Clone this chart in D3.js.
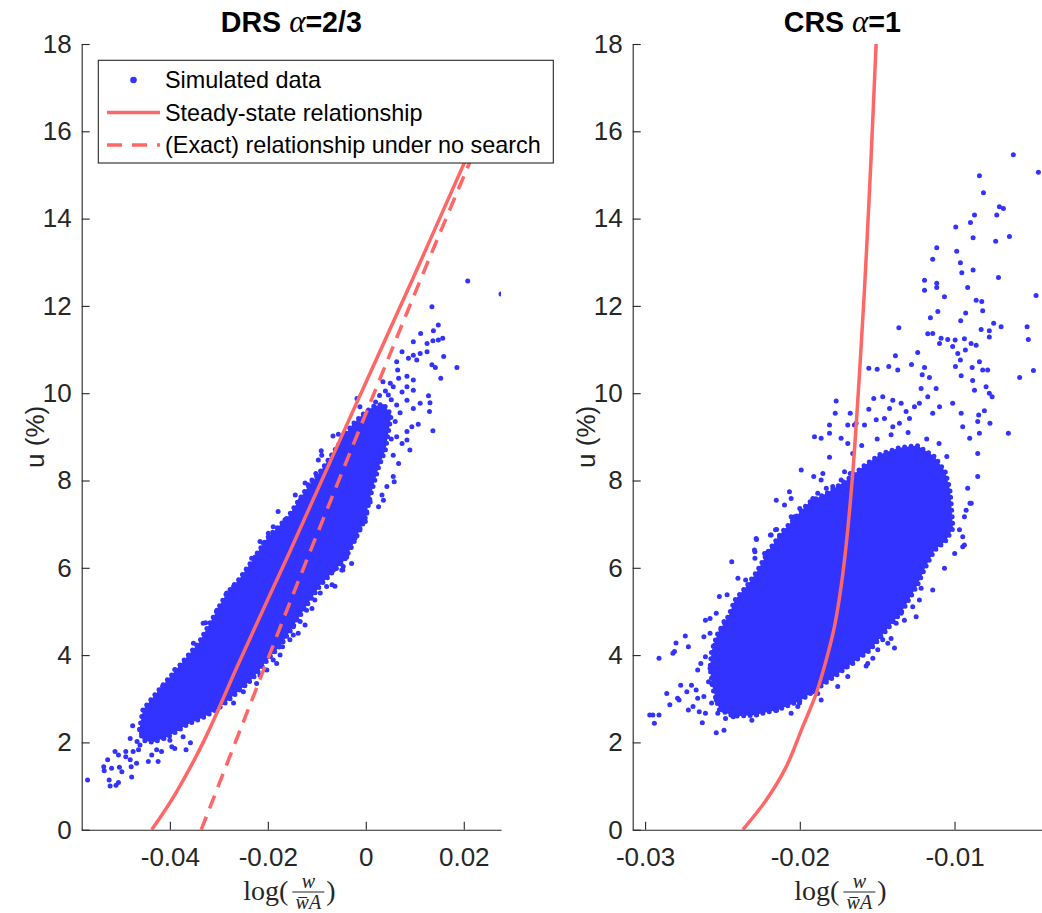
<!DOCTYPE html>
<html>
<head>
<meta charset="utf-8">
<script src="https://cdn.jsdelivr.net/npm/d3@7"></script>
<style>
  body { margin: 0; background: #fff; }
  svg { display: block; font-family: "Liberation Sans", Arial, Helvetica, sans-serif; }
</style>
</head>
<body>
<svg id="chart" width="1042" height="913"></svg>
<script>
// ---- data ----
var uTicks = [0, 2, 4, 6, 8, 10, 12, 14, 16, 18];
var drsXTicks = [-0.04, -0.02, 0, 0.02];
var crsXTicks = [-0.03, -0.02, -0.01];
var legendLabels = ['Simulated data', 'Steady-state relationship', '(Exact) relationship under no search'];

// steady-state relationship, DRS panel  [log(w/wA), u%]
var drsSteady = [[-0.0437,0],[-0.0390,0.8],[-0.0332,2.0],[-0.0260,3.8],[-0.0195,5.4],[-0.0158,6.3],
  [-0.0042,9.2],[0.0095,12.6],[0.0202,15.3],[0.0230,16.0]];
// exact relationship under no search, DRS panel
var drsNoSearch = [[-0.0336,0],[-0.0235,2.9],[-0.0134,5.8],[0.0108,12.5],[0.0205,15.1],[0.0235,15.9]];
// steady-state relationship, CRS panel
var crsSteady = [[-0.02368,0],[-0.02217,0.68],[-0.02088,1.44],[-0.01981,2.36],[-0.01894,3.12],[-0.01829,3.89],
  [-0.01776,4.65],[-0.01733,5.57],[-0.01701,6.5],[-0.01658,8.16],[-0.01614,10.46],[-0.01582,12.37],
  [-0.0156,13.89],[-0.01539,15.42],[-0.01507,18]];

// outline of the saturated part of each cloud
var drsCore = [[-0.0462,2.3],[-0.0455,2.75],[-0.0430,3.1],[-0.0400,3.5],[-0.0370,3.9],[-0.0340,4.3],[-0.0310,4.9],
  [-0.0285,5.4],[-0.0258,5.75],[-0.0236,6.1],[-0.0200,6.7],[-0.0160,7.15],[-0.0125,7.75],[-0.0090,8.25],[-0.0060,8.75],
  [-0.0030,9.25],[-0.0008,9.5],[0.0016,9.7],[0.0036,9.75],[0.0052,9.5],[0.0046,9.1],[0.0040,8.7],[0.0026,8.3],
  [0.0012,7.75],[-0.0002,7.1],[-0.0028,6.5],[-0.0045,6.15],[-0.0066,5.92],[-0.0093,5.6],[-0.0120,5.15],[-0.0146,4.7],
  [-0.0172,4.25],[-0.0200,3.9],[-0.0232,3.45],[-0.0265,3.12],[-0.0296,2.82],[-0.0330,2.58],[-0.0366,2.4],
  [-0.0400,2.15],[-0.0435,2.0],[-0.0455,2.05]];
var crsCore = [[-0.0252,2.75],[-0.0256,3.2],[-0.0258,3.7],[-0.0257,4.1],[-0.0253,4.5],[-0.0246,4.9],[-0.0242,5.26],
  [-0.0234,5.6],[-0.0228,5.9],[-0.0220,6.4],[-0.0212,6.8],[-0.0203,7.15],[-0.0194,7.5],[-0.0183,7.7],[-0.0170,8.0],
  [-0.0158,8.35],[-0.0148,8.6],[-0.0136,8.75],[-0.0124,8.8],[-0.0113,8.55],[-0.0106,8.2],[-0.0103,7.8],[-0.0102,7.4],
  [-0.0101,6.9],[-0.0106,6.6],[-0.0113,6.4],[-0.0119,6.0],[-0.0124,5.6],[-0.0129,5.3],[-0.0134,5.0],[-0.0141,4.7],
  [-0.0148,4.4],[-0.0155,4.1],[-0.0165,3.85],[-0.0176,3.55],[-0.0188,3.25],[-0.0200,2.95],[-0.0214,2.75],
  [-0.0230,2.62],[-0.0243,2.6]];

// scattered simulated points outside the saturated core
var drsPoints = [[-0.0568,1.14],[-0.0522,1.00],[-0.0524,1.14],[-0.0510,1.02],[-0.0505,1.08],[-0.0535,1.44],[-0.0534,1.35],
  [-0.0527,1.60],[-0.0512,1.79],[-0.0505,1.71],[-0.0519,1.41],[-0.0503,1.43],[-0.0498,1.33],[-0.0490,1.67],[-0.0481,1.60],
  [-0.0490,1.79],[-0.0475,1.79],[-0.0478,1.21],[-0.0479,1.44],[-0.0468,1.52],[-0.0481,2.09],[-0.0476,2.38],[-0.0467,2.02],
  [-0.0461,1.94],[-0.0464,1.83],[-0.0458,2.21],[-0.0453,2.44],[-0.0446,2.28],[-0.0441,2.47],[-0.0444,1.56],[-0.0437,1.71],
  [-0.0427,1.83],[-0.0424,1.56],[-0.0417,1.79],[-0.0396,1.90],[-0.0390,1.86],[-0.0400,2.05],[-0.0412,2.09],[-0.0410,2.21],
  [-0.0367,1.83],[-0.0358,1.99],[-0.0383,2.32],[-0.0373,2.13],[-0.0415,3.28],[-0.0407,3.20],[-0.0390,3.67],[-0.0441,2.59],
  [-0.0434,2.36],[-0.0427,2.70],[-0.0420,2.82],[-0.0352,4.27],[-0.0327,4.74],[-0.0304,5.03],[-0.0284,5.42],[-0.0250,5.72],
  [-0.0270,5.57],[-0.0231,5.99],[-0.0270,2.90],[-0.0250,3.16],[-0.0247,3.31],[-0.0223,3.35],[-0.0216,3.54],[-0.0202,3.66],
  [-0.0182,3.81],[-0.0175,4.00],[-0.0189,3.89],[-0.0170,4.19],[-0.0155,4.35],[-0.0148,4.46],[-0.0138,4.50],[-0.0121,5.03],
  [-0.0134,4.77],[-0.0124,4.69],[-0.0148,4.65],[-0.0110,5.07],[-0.0104,5.26],[-0.0093,5.42],[-0.0080,5.57],[-0.0069,5.61],
  [-0.0063,5.58],[-0.0049,5.95],[-0.0046,6.03],[-0.0029,6.10],[-0.0080,5.87],[-0.0332,4.73],[-0.0291,4.96],[-0.0284,5.26],
  [0.0208,12.57],[0.0276,12.27],[0.0135,11.98],[0.0148,11.56],[0.0138,11.43],[0.0112,11.37],[0.0097,11.18],[0.0125,11.14],
  [0.0137,11.20],[0.0148,11.22],[0.0157,11.26],[0.0159,10.84],[0.0186,10.59],[0.0153,10.34],[0.0074,10.95],[0.0063,10.72],
  [0.0087,10.80],[0.0097,10.87],[0.0104,10.76],[0.0111,10.91],[0.0125,10.95],[0.0135,10.65],[0.0142,10.59],[0.0065,10.53],
  [0.0084,10.39],[0.0097,10.30],[0.0084,10.15],[0.0067,10.34],[0.0035,10.26],[0.0056,10.15],[0.0050,10.23],[0.0074,10.03],
  [0.0097,10.07],[0.0128,9.94],[0.0111,9.77],[0.0131,9.78],[0.0084,9.84],[0.0063,9.73],[0.0046,9.96],[0.0097,9.65],
  [0.0130,9.58],[0.0107,9.29],[0.0137,9.14],[0.0094,9.23],[0.0084,9.12],[0.0063,9.00],[0.0074,8.85],[0.0084,8.93],
  [0.0090,8.70],[0.0056,8.58],[0.0067,8.39],[0.0056,8.09],[0.0058,7.97],[0.0043,7.86],[0.0033,7.67],[0.0036,7.55],
  [0.0026,7.40],[0.0009,7.51],[0.0002,7.25],[-0.0001,7.06],[-0.0012,6.90],[-0.0022,6.68],[-0.0032,6.48],[-0.0039,6.25],
  [-0.0053,6.10],[-0.0066,5.95],[-0.0047,5.95],[-0.0067,9.02],[-0.0056,9.06],[-0.0046,9.00],[-0.0091,8.68],[-0.0097,8.47],
  [-0.0090,8.58],[-0.0102,8.16],[-0.0117,7.90],[-0.0124,7.94],[-0.0144,7.67],[-0.0134,7.55],[-0.0110,8.01],[-0.0179,7.29],
  [-0.0165,7.10],[-0.0189,6.94],[-0.0199,6.79],[-0.0216,6.60],[-0.0209,6.56],[-0.0226,6.25],[-0.0233,6.22],[-0.0012,9.69],
  [-0.0018,9.88],[0.0020,9.80],[0.0028,9.95],[0.0040,10.05],[0.0015,9.55],[0.0052,9.85],[0.0045,9.45],[0.0060,9.35],
  [0.0070,9.55],[0.0025,9.25],[0.0052,8.95]];

var crsPoints = [[-0.0297,2.63],[-0.0295,2.63],[-0.0294,2.44],[-0.0291,2.63],[-0.0291,3.93],[-0.0286,3.12],[-0.0284,2.86],
  [-0.0282,4.04],[-0.0281,4.08],[-0.0274,4.44],[-0.0272,4.19],[-0.0280,4.28],[-0.0277,3.31],[-0.0279,3.01],[-0.0278,2.97],
  [-0.0273,3.16],[-0.0270,3.31],[-0.0266,3.66],[-0.0264,3.81],[-0.0272,2.74],[-0.0269,2.82],[-0.0265,2.70],[-0.0263,2.45],
  [-0.0261,2.67],[-0.0257,2.90],[-0.0254,2.97],[-0.0253,2.67],[-0.0254,2.22],[-0.0249,2.28],[-0.0248,2.55],[-0.0250,2.74],
  [-0.0267,3.20],[-0.0266,3.01],[-0.0262,3.05],[-0.0259,3.39],[-0.0257,3.35],[-0.0256,3.54],[-0.0258,3.70],[-0.0261,3.96],
  [-0.0262,4.42],[-0.0258,4.50],[-0.0255,4.23],[-0.0253,4.04],[-0.0256,3.89],[-0.0252,4.42],[-0.0251,4.58],[-0.0249,4.77],
  [-0.0247,4.61],[-0.0254,4.96],[-0.0258,4.84],[-0.0261,4.80],[-0.0252,5.34],[-0.0247,5.38],[-0.0244,6.14],[-0.0240,5.76],
  [-0.0235,5.72],[-0.0228,6.65],[-0.0229,6.22],[-0.0229,6.37],[-0.0222,6.33],[-0.0219,6.75],[-0.0215,6.88],[-0.0212,6.64],
  [-0.0206,6.79],[-0.0211,6.25],[-0.0205,6.41],[-0.0222,6.10],[-0.0226,5.80],[-0.0231,5.19],[-0.0239,2.67],[-0.0237,2.82],
  [-0.0243,2.59],[-0.0241,2.90],[-0.0231,2.51],[-0.0228,2.63],[-0.0215,2.74],[-0.0231,3.01],
  [-0.00947,6.48],[-0.00999,6.33],[-0.00925,7.32],[-0.00892,7.48],[-0.00968,6.87],[-0.01065,5.99],[-0.01141,5.49],
  [-0.01216,5.53],[-0.01227,5.26],[-0.0127,5.11],[-0.01248,4.88],[-0.01345,4.96],[-0.01324,4.80],[-0.01377,4.73],
  [-0.01388,4.16],[-0.01431,4.27],[-0.0141,4.38],[-0.01528,3.93],[-0.01571,3.75],[-0.01561,3.81],[-0.01496,4.12],
  [-0.01464,4.35],[-0.01614,4.04],[-0.01636,3.96],[-0.0169,3.51],[-0.01755,3.28],[-0.017,3.73],[-0.01658,3.81],
  [-0.01862,2.97],[-0.01884,3.12],[-0.01916,3.16],[-0.02056,2.67],[-0.02152,2.73],[-0.02002,2.90],[-0.01981,3.05],
  [-0.02013,2.82],
  [-0.0062,15.46],[-0.00458,15.06],[-0.00839,14.98],[-0.00813,14.59],[-0.0071,14.27],[-0.00684,14.23],[-0.00727,14.08],
  [-0.00871,14.08],[-0.00897,13.91],[-0.00992,13.81],[-0.0088,13.56],[-0.00734,13.48],[-0.00645,13.59],[-0.01115,13.33],
  [-0.01141,13.07],[-0.00986,13.25],[-0.00962,12.99],[-0.00953,12.76],[-0.0088,12.82],[-0.00716,12.65],[-0.01194,12.59],
  [-0.01194,12.36],[-0.01115,12.52],[-0.01115,12.42],[-0.01065,12.21],[-0.00915,12.42],[-0.0086,12.13],[-0.00824,12.10],
  [-0.00818,11.89],[-0.00928,11.84],[-0.0096,11.66],[-0.00828,11.46],[-0.00775,11.43],[-0.00747,11.60],[-0.00699,11.52],
  [-0.00775,11.29],[-0.00531,11.52],[-0.00523,11.23],[-0.00473,12.24],[-0.0049,10.52],[-0.00579,10.36],[-0.00652,9.08],
  [-0.01156,11.73],[-0.01108,11.87],[-0.01173,11.36],[-0.01141,11.37],[-0.01097,11.14],[-0.01087,11.26],[-0.01044,11.23],
  [-0.01012,11.07],[-0.00996,11.22],[-0.00936,11.25],[-0.00979,10.91],[-0.0093,10.99],[-0.00962,10.76],[-0.00893,11.14],
  [-0.0086,11.10],[-0.00994,10.61],[-0.00957,10.40],[-0.00886,10.59],[-0.00839,10.72],[-0.00818,10.53],[-0.00786,10.53],
  [-0.00883,10.29],[-0.00871,10.07],[-0.00796,10.15],[-0.00775,10.00],[-0.00757,9.92],[-0.00807,9.60],[-0.00844,9.50],
  [-0.0085,9.35],[-0.00771,9.31],[-0.00839,9.08],[-0.00902,8.97],[-0.00947,9.23],[-0.00957,9.54],[-0.01012,9.77],
  [-0.0085,8.62],[-0.0085,8.09],[-0.00915,7.82],[-0.009,7.48],[-0.00936,7.17],[-0.00947,6.71],[-0.00936,6.52],
  [-0.01554,10.57],[-0.0150,10.55],[-0.01425,10.61],[-0.01367,10.53],[-0.01382,10.86],[-0.01278,10.66],[-0.01238,10.93],
  [-0.0136,11.50],[-0.01194,10.59],[-0.01209,10.42],[-0.01162,10.36],[-0.01119,10.11],[-0.01216,10.11],[-0.01173,9.92],
  [-0.01227,9.77],[-0.01141,9.54],[-0.01097,9.69],[-0.01259,9.69],[-0.01313,9.58],[-0.01345,9.77],[-0.01399,9.84],
  [-0.0142,9.65],[-0.01464,9.92],[-0.01522,9.88],[-0.01554,9.63],[-0.01582,9.27],[-0.01506,9.39],[-0.01453,9.42],
  [-0.01399,9.23],[-0.01356,9.31],[-0.01291,9.42],[-0.01636,9.31],[-0.01647,9.27],[-0.0169,9.27],[-0.01674,9.54],
  [-0.01771,9.54],[-0.01765,9.82],[-0.01808,9.27],[-0.01808,9.08],[-0.01862,8.97],[-0.01905,9.00],[-0.01733,8.97],
  [-0.0169,8.85],[-0.01658,8.62],[-0.01808,8.53],[-0.01711,8.20],[-0.01674,8.16],[-0.01733,8.01],[-0.01851,8.16],
  [-0.01991,8.24],[-0.0191,8.09],[-0.01862,8.01],[-0.01787,7.86],[-0.01829,7.82],[-0.01765,7.71],[-0.01722,7.63],
  [-0.01884,7.71],[-0.01916,7.59],[-0.0200,7.36],[-0.02056,7.59],[-0.02067,7.74],[-0.02099,7.44],[-0.02152,7.55],
  [-0.02034,7.17],[-0.01959,7.25],[-0.01926,7.09],[-0.01873,7.25],[-0.01808,7.17],
  [-0.02282,6.67],[-0.02293,6.41],[-0.02228,6.33],[-0.02185,6.75],[-0.02157,6.87],[-0.02131,6.71],[-0.02099,6.64],
  [-0.02067,6.94],[-0.02056,7.17],[-0.0200,6.79],
  [-0.0150,8.95],[-0.0141,9.05],[-0.0130,9.10],[-0.0118,8.95],[-0.0110,8.85],[-0.0105,8.55],[-0.0160,8.80]];

// ---- drawing ----
var svg = d3.select('#chart');
var ink = '#262626', blue = '#3333ff', red = '#ff6666';
var yTop = 44, yBottom = 829.7, panelW = 419.3;
var serif = '"Liberation Serif", "DejaVu Serif", serif';
var tickFmt = function (d) { return String(+d.toFixed(2)); };

function drawPanel(opt) {
  var xScale = d3.scaleLinear().domain(opt.xDomain).range([opt.left, opt.left + panelW]);
  var yScale = d3.scaleLinear().domain([0, 18]).range([yBottom, yTop]);
  var g = svg.append('g');

  svg.append('clipPath').attr('id', 'clip-' + opt.name)
    .append('rect')
    .attr('x', opt.left).attr('y', yTop)
    .attr('width', panelW).attr('height', yBottom - yTop);

  var plot = g.append('g').attr('clip-path', 'url(#clip-' + opt.name + ')');
  var px = function (d) { return xScale(d[0]); };
  var py = function (d) { return yScale(d[1]); };

  // saturated core, edge broken up with a dotted rim like the marker cloud
  var coreLine = d3.line().x(px).y(py).curve(d3.curveLinearClosed);
  plot.append('path')
    .datum(opt.core)
    .attr('d', coreLine)
    .attr('fill', blue);
  plot.append('path')
    .datum(opt.core)
    .attr('d', coreLine)
    .attr('fill', 'none')
    .attr('stroke', blue)
    .attr('stroke-width', 5)
    .attr('stroke-linecap', 'round')
    .attr('stroke-dasharray', '0,6.5');

  plot.selectAll('circle')
    .data(opt.points)
    .join('circle')
    .attr('cx', px).attr('cy', py)
    .attr('r', 2.5)
    .attr('fill', blue);

  var lineFun = d3.line().x(px).y(py).curve(d3.curveCatmullRom.alpha(0.5));
  opt.lines.forEach(function (l) {
    plot.append('path')
      .datum(l.data)
      .attr('d', lineFun)
      .attr('fill', 'none')
      .attr('stroke', red)
      .attr('stroke-width', 3.5)
      .attr('stroke-dasharray', l.dash || null);
  });

  var xAxis = g.append('g')
    .attr('transform', 'translate(0,' + yBottom + ')')
    .call(d3.axisBottom(xScale).tickValues(opt.xTicks).tickFormat(tickFmt)
      .tickSizeInner(-8).tickSizeOuter(0).tickPadding(18));
  var yAxis = g.append('g')
    .attr('transform', 'translate(' + opt.left + ',0)')
    .call(d3.axisLeft(yScale).tickValues(uTicks).tickFormat(tickFmt)
      .tickSizeInner(-8).tickSizeOuter(0).tickPadding(10));

  [xAxis, yAxis].forEach(function (ax) {
    ax.attr('font-size', 26).attr('font-family', null);
    ax.select('.domain').attr('stroke', ink).attr('stroke-width', 1.1);
    ax.selectAll('.tick line').attr('stroke', ink).attr('stroke-width', 1.1);
    ax.selectAll('.tick text').attr('fill', ink);
  });

  var cx = opt.left + panelW / 2;

  // title
  var title = g.append('text')
    .attr('x', cx).attr('y', 32)
    .attr('text-anchor', 'middle')
    .attr('font-size', 28.6)
    .attr('font-weight', 'bold')
    .attr('fill', '#000');
  title.append('tspan').text(opt.titleLeft + ' ');
  title.append('tspan')
    .attr('font-family', serif)
    .attr('font-style', 'italic').attr('font-weight', 'normal')
    .attr('font-size', 31)
    .text('\u03b1');
  title.append('tspan').text(opt.titleRight);

  // y label
  g.append('text')
    .attr('transform', 'translate(' + (opt.left - 38) + ',' + ((yTop + yBottom) / 2) + ') rotate(-90)')
    .attr('text-anchor', 'middle')
    .attr('font-size', 26)
    .attr('fill', ink)
    .text('u (%)');

  // x label: log( w / (w-bar A) )
  var xl = g.append('g').attr('fill', ink).attr('font-family', serif);
  xl.append('text').attr('x', cx - 3).attr('y', 900).attr('text-anchor', 'end')
    .attr('font-size', 28).text('log(');
  xl.append('text').attr('x', cx + 17).attr('y', 888).attr('text-anchor', 'middle')
    .attr('font-size', 20).attr('font-style', 'italic').text('w');
  xl.append('line').attr('x1', cx + 1).attr('x2', cx + 33).attr('y1', 892).attr('y2', 892)
    .attr('stroke', ink).attr('stroke-width', 1.2);
  xl.append('text').attr('x', cx + 17).attr('y', 909).attr('text-anchor', 'middle')
    .attr('font-size', 20).attr('font-style', 'italic').text('wA');
  xl.append('line').attr('x1', cx + 7).attr('x2', cx + 16).attr('y1', 897.5).attr('y2', 897.5)
    .attr('stroke', ink).attr('stroke-width', 1);
  xl.append('text').attr('x', cx + 35).attr('y', 900)
    .attr('font-size', 28).text(')');
}

drawPanel({
  name: 'drs', left: 81.7, xDomain: [-0.058, 0.0276], xTicks: drsXTicks,
  core: drsCore, points: drsPoints,
  lines: [{ data: drsSteady }, { data: drsNoSearch, dash: '14,9' }],
  titleLeft: 'DRS', titleRight: '=2/3'
});

drawPanel({
  name: 'crs', left: 632.7, xDomain: [-0.0308, -0.0037], xTicks: crsXTicks,
  core: crsCore, points: crsPoints,
  lines: [{ data: crsSteady }],
  titleLeft: 'CRS', titleRight: '=1'
});

// legend (left panel)
var legend = svg.append('g');
legend.append('rect')
  .attr('x', 98.3).attr('y', 60.3).attr('width', 455).attr('height', 102.7)
  .attr('fill', '#fff').attr('stroke', ink).attr('stroke-width', 1.1);
var rowY = [80, 112.5, 145];
legend.append('circle').attr('cx', 133.5).attr('cy', rowY[0]).attr('r', 3.3).attr('fill', blue);
legend.append('line').attr('x1', 107).attr('x2', 160).attr('y1', rowY[1]).attr('y2', rowY[1])
  .attr('stroke', red).attr('stroke-width', 3.5);
legend.append('line').attr('x1', 107).attr('x2', 160).attr('y1', rowY[2]).attr('y2', rowY[2])
  .attr('stroke', red).attr('stroke-width', 3.5).attr('stroke-dasharray', '15,10');
legend.selectAll('text.lbl')
  .data(legendLabels)
  .join('text')
  .attr('class', 'lbl')
  .attr('x', 165)
  .attr('y', function (d, i) { return rowY[i] + 8.4; })
  .attr('font-size', 23.4)
  .attr('fill', '#000')
  .text(function (d) { return d; });
</script>
</body>
</html>
